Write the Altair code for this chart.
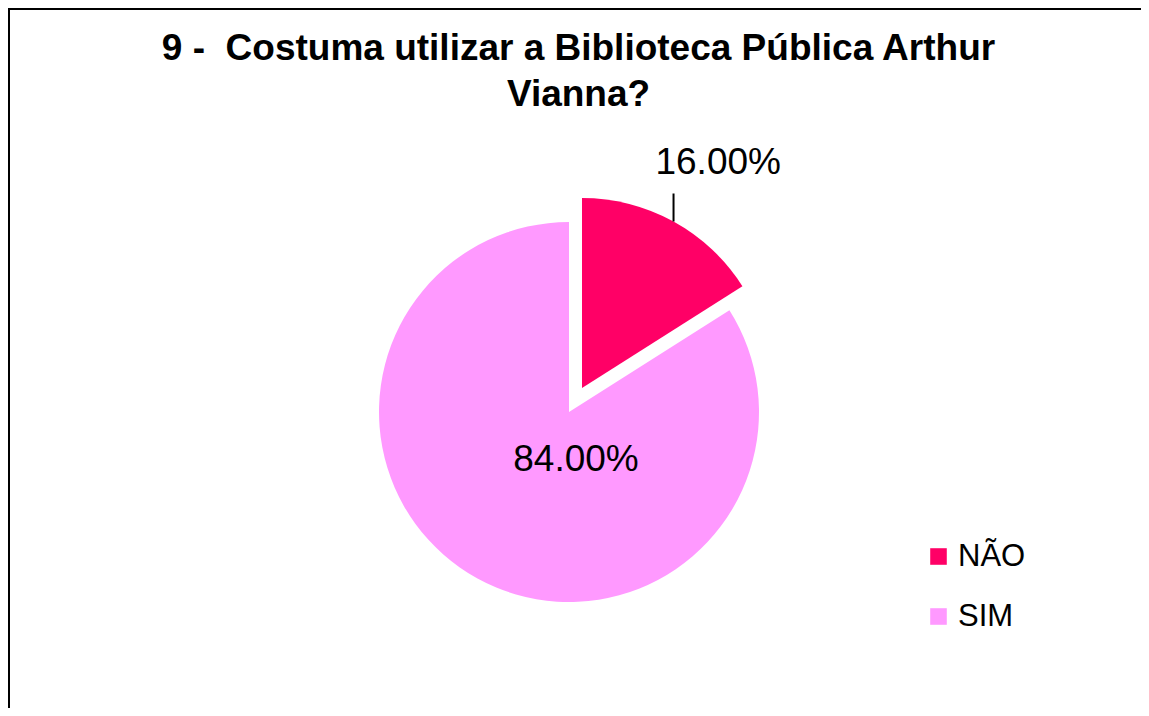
import math
import altair as alt
import pandas as pd

categories = ["NÃO", "SIM"]
values = [16.0, 84.0]
colors = ["#FF0066", "#FF99FF"]
title_lines = ["9 -\u00a0 Costuma utilizar a Biblioteca Pública Arthur", "Vianna?"]

df = pd.DataFrame({"cat": categories, "value": values, "order": [0, 1]})
df["label"] = [f"{v:.2f}%" for v in values]

W, H = 1133, 700
CX, CY = 561, 404
R = 190
EX, EY = 13, -24
FONT = "Liberation Sans"

base = (
    alt.Chart(df)
    .transform_stack(stack="value", groupby=[], as_=["v0", "v1"],
                     sort=[alt.SortField("order")])
    .transform_calculate(mid="(datum.v0 + datum.v1) / 2")
)

theta_scale = alt.Scale(domain=[0, 100], range=[0, 2 * math.pi])
color = alt.Color(
    "cat:N",
    scale=alt.Scale(domain=categories, range=colors),
    sort=categories,
    legend=alt.Legend(
        title=None, orient="none", legendX=915, legendY=533,
        symbolType="square", symbolSize=275, symbolStrokeWidth=0,
        labelFontSize=31, labelFont=FONT, labelColor="#000000",
        labelOffset=4, rowPadding=28, padding=0, labelLimit=300,
    ),
)

sim = base.transform_filter("datum.cat == 'SIM'")
nao = base.transform_filter("datum.cat == 'NÃO'")

one = alt.Chart(df).transform_filter("datum.order == 0")
frame_top = one.mark_rule(color="#000000", strokeWidth=2).encode(
    x=alt.value(0), x2=alt.value(W + 40), y=alt.value(1))
frame_left = one.mark_rule(color="#000000", strokeWidth=2).encode(
    x=alt.value(1), y=alt.value(0), y2=alt.value(H + 40))

sim_arc = sim.mark_arc(radius=R).encode(
    theta=alt.Theta("v0:Q", scale=theta_scale, stack=None),
    theta2="v1:Q",
    color=color,
    x=alt.value(CX), y=alt.value(CY),
)

nao_arc = nao.mark_arc(radius=R, xOffset=EX, yOffset=EY).encode(
    theta=alt.Theta("v0:Q", scale=theta_scale, stack=None),
    theta2="v1:Q",
    color=color,
    x=alt.value(CX), y=alt.value(CY),
)

sim_label = sim.mark_text(fontSize=37, font=FONT, color="#000000", dx=7, dy=48).encode(
    text="label:N", x=alt.value(CX), y=alt.value(CY),
)

nao_label = nao.mark_text(fontSize=37, font=FONT, color="#000000",
                          radius=262, xOffset=EX, yOffset=EY, dx=10, dy=5).encode(
    theta=alt.Theta("mid:Q", scale=theta_scale, stack=None),
    text="label:N", x=alt.value(CX), y=alt.value(CY),
)

leader = (
    nao.transform_calculate(
        lx=f"{CX + EX} + {R} * sin(datum.mid * 2 * PI / 100)",
        ly1=f"{CY + EY} - {R} * cos(datum.mid * 2 * PI / 100)",
    )
    .transform_calculate(ly2="datum.ly1 - 28")
    .mark_rule(color="#000000", strokeWidth=2)
    .encode(
        x=alt.X("lx:Q", scale=None, axis=None),
        y=alt.Y("ly1:Q", scale=None, axis=None),
        y2="ly2:Q",
    )
)

chart = (
    alt.layer(frame_top, frame_left, sim_arc, nao_arc, leader, sim_label, nao_label)
    .properties(
        width=W, height=H,
        autosize=alt.AutoSizeParams(type="none"),
        padding=0,
        title=alt.TitleParams(
            text=title_lines, fontSize=37, font=FONT, fontWeight="bold",
            color="#000000", anchor="middle", frame="group", dx=4,
            baseline="top", offset=-107, lineHeight=46,
        ),
    )
    .configure_view(strokeWidth=0)
    .configure(background="#ffffff")
)

chart.save("out.html", embed_options={"renderer": "svg", "actions": False})
